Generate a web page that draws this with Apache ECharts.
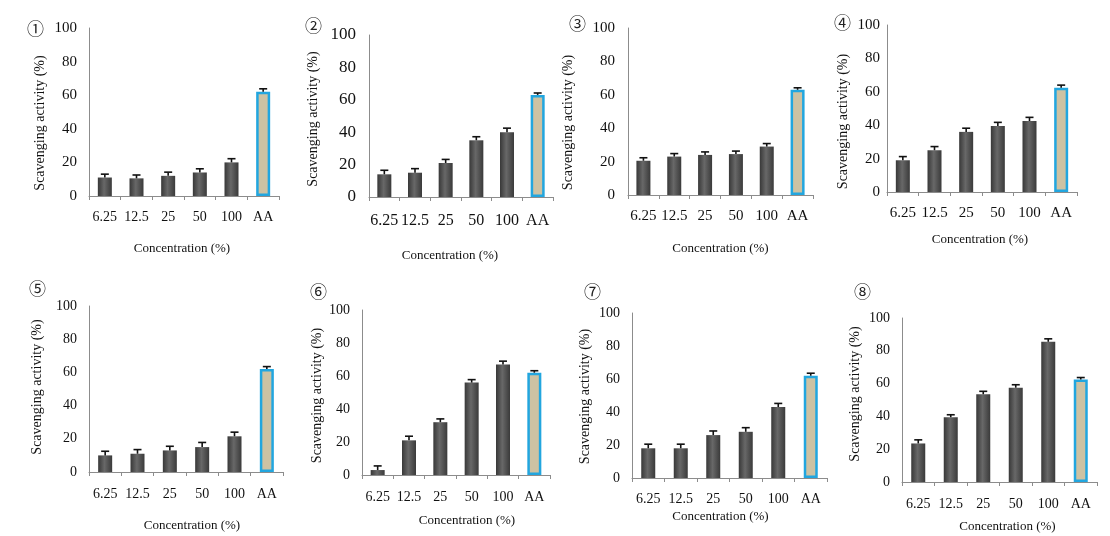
<!DOCTYPE html>
<html><head><meta charset="utf-8">
<script src="https://cdn.jsdelivr.net/npm/echarts@6/dist/echarts.min.js"></script>
<style>html,body{margin:0;padding:0;background:#fff}#c{width:1110px;height:536px}</style>
</head><body><div id="c"></div>
<script>
// ---- data ----
const categories = ['6.25', '12.5', '25', '50', '100', 'AA'];
const yTicks = [0, 20, 40, 60, 80, 100];
const panelMarks = ['①', '②', '③', '④', '⑤', '⑥', '⑦', '⑧'];
const yTitle = 'Scavenging activity (%)';
const xTitle = 'Concentration (%)';

const values1 = [11, 10.5, 12, 14, 20, 62];
const errors1 = [2, 2, 2.2, 2.2, 2.2, 1.8];
const values2 = [14, 15, 21, 35, 40, 63];
const errors2 = [2.5, 2.5, 2.2, 2.2, 2.5, 1.2];
const values3 = [20.5, 23, 24, 24.5, 29, 63];
const errors3 = [1.8, 1.8, 1.8, 1.8, 1.8, 1.2];
const values4 = [19, 25, 36, 39.5, 42.5, 62.5];
const errors4 = [2.2, 2.2, 2.2, 2.2, 2.2, 1.5];
const values5 = [10, 11, 13, 15, 21.5, 62];
const errors5 = [2.5, 2.5, 2.5, 2.8, 2.5, 1.5];
const values6 = [3, 21, 32, 56, 67, 62];
const errors6 = [2.5, 2.5, 2, 1.8, 2, 1.2];
const values7 = [18, 18, 26, 28, 43, 62];
const errors7 = [2.5, 2.5, 2.5, 2.5, 2.2, 1.5];
const values8 = [23.5, 39.5, 53.5, 57.5, 85.5, 62.5];
const errors8 = [2.2, 1.5, 1.8, 1.8, 1.8, 1.2];

const allValues = [values1, values2, values3, values4, values5, values6, values7, values8];
const allErrors = [errors1, errors2, errors3, errors4, errors5, errors6, errors7, errors8];

// ---- layout (pixels) ----
const layout = [
  {l: 89,  t: 28,  w: 190, h: 168, xf: 14, yf: 15, ym: 12, xm: 14, yGap: 42, yShift: 11, xGap: 46, xShift: -2, mx: 35,  my: 30},
  {l: 369, t: 35,  w: 184, h: 162, xf: 16, yf: 17, ym: 13, xm: 16, yGap: 49, yShift: 3,  xGap: 52, xShift: -11, mx: 313, my: 27},
  {l: 628, t: 28,  w: 185, h: 167, xf: 15, yf: 15, ym: 13, xm: 14, yGap: 53, yShift: 11, xGap: 47, xShift: 0,  mx: 577, my: 25},
  {l: 887, t: 25,  w: 190, h: 167, xf: 15, yf: 15, ym: 7,  xm: 14, yGap: 37, yShift: 13, xGap: 41, xShift: -2, mx: 842, my: 24},
  {l: 89,  t: 306, w: 194, h: 166, xf: 14, yf: 14, ym: 12, xm: 15, yGap: 45, yShift: -2, xGap: 47, xShift: 6,  mx: 37,  my: 290},
  {l: 362, t: 310, w: 188, h: 165, xf: 14, yf: 14, ym: 12, xm: 15, yGap: 38, yShift: 3,  xGap: 39, xShift: 11, mx: 318, my: 293},
  {l: 632, t: 313, w: 195, h: 165, xf: 14, yf: 14, ym: 12, xm: 14, yGap: 40, yShift: 1,  xGap: 32, xShift: -9, mx: 592, my: 293},
  {l: 902, t: 318, w: 195, h: 164, xf: 14, yf: 14, ym: 12, xm: 15, yGap: 40, yShift: -6, xGap: 38, xShift: 8,  mx: 862, my: 293}
];

const serif = '"Liberation Serif", "Times New Roman", serif';
const axisGrey = '#8c8c8c';
const barGrad = new echarts.graphic.LinearGradient(0, 0, 1, 0, [
  {offset: 0, color: '#383838'}, {offset: 0.45, color: '#686868'}, {offset: 1, color: '#3a3a3a'}
]);

const grid = [], xAxis = [], yAxis = [], series = [], graphic = [];
layout.forEach((L, i) => {
  grid.push({left: L.l, top: L.t, width: L.w, height: L.h, containLabel: false});
  const xs = L.xShift;
  xAxis.push({
    type: 'category', gridIndex: i, data: categories, boundaryGap: true,
    axisLine: {show: true, lineStyle: {color: axisGrey, width: 1}},
    axisTick: {show: true, interval: 0, length: 4, lineStyle: {color: axisGrey}},
    axisLabel: {interval: 0, fontFamily: serif, fontSize: L.xf, color: '#111', margin: L.xm},
    name: xTitle, nameLocation: 'middle', nameGap: L.xGap,
    nameTextStyle: {fontFamily: serif, fontSize: 13, color: '#111',
      padding: xs >= 0 ? [0, 0, 0, 2 * xs] : [0, -2 * xs, 0, 0]}
  });
  const ys = L.yShift;
  yAxis.push({
    type: 'value', gridIndex: i, min: 0, max: 100, interval: 20,
    axisLine: {show: true, lineStyle: {color: axisGrey, width: 1}},
    axisTick: {show: false},
    splitLine: {show: false},
    axisLabel: {fontFamily: serif, fontSize: L.yf, color: '#111', margin: L.ym,
      formatter: v => yTicks.includes(v) ? String(v) : ''},
    name: yTitle, nameLocation: 'middle', nameGap: L.yGap,
    nameTextStyle: {fontFamily: serif, fontSize: 14, color: '#111',
      padding: ys >= 0 ? [0, 2 * ys, 0, 0] : [0, 0, 0, -2 * ys]}
  });
  const vals = allValues[i];
  series.push({
    type: 'bar', xAxisIndex: i, yAxisIndex: i, barWidth: 14, silent: true,
    data: vals.map((v, k) => k === categories.length - 1
      ? {value: v, itemStyle: {color: '#cdc2a3', borderColor: '#22a6df', borderWidth: 2.5}}
      : {value: v, itemStyle: {color: barGrad}})
  });
  series.push({
    type: 'custom', xAxisIndex: i, yAxisIndex: i, silent: true, z: 5,
    encode: {x: 0, y: 1},
    data: vals.map((v, k) => [k, v, allErrors[i][k]]),
    renderItem: (params, api) => {
      const k = api.value(0), v = api.value(1), e = api.value(2);
      const b = api.coord([k, v]);
      const tp = api.coord([k, v + e]);
      const st = {stroke: '#111', lineWidth: 1.6};
      return {type: 'group', children: [
        {type: 'line', shape: {x1: b[0], y1: b[1], x2: tp[0], y2: tp[1]}, style: st},
        {type: 'line', shape: {x1: tp[0] - 4, y1: tp[1], x2: tp[0] + 4, y2: tp[1]}, style: st}
      ]};
    }
  });
  graphic.push({
    type: 'text', left: L.mx - 8, top: L.my - 10,
    style: {text: panelMarks[i], font: '17px "Noto Sans CJK JP", "DejaVu Sans", sans-serif', fill: '#222'}
  });
});

const chart = echarts.init(document.getElementById('c'), null, {renderer: 'canvas'});
chart.setOption({animation: false, backgroundColor: '#fff', grid, xAxis, yAxis, series, graphic});
</script></body></html>
